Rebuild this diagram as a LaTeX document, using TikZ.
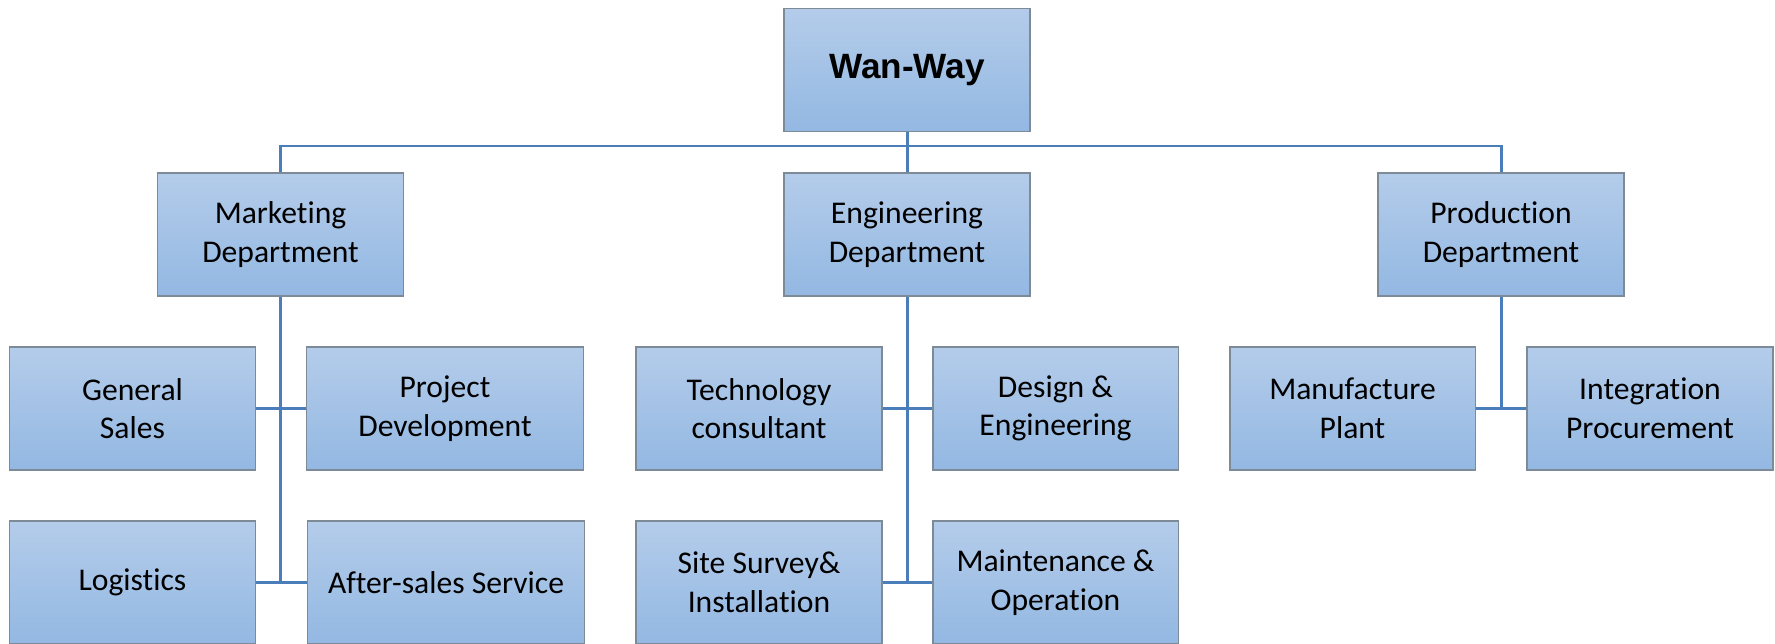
\documentclass[tikz,border=0pt]{standalone}
\usepackage{fontspec}
\setmainfont{Carlito}[Ligatures=NoCommon]
\newfontfamily\headfont{Liberation Sans}
\definecolor{boxtop}{RGB}{180,204,234}
\definecolor{boxbot}{RGB}{147,184,226}
\definecolor{boxline}{RGB}{125,138,152}
\definecolor{wire}{RGB}{74,126,187}
\begin{document}
\begin{tikzpicture}
    [x=0.02cm,y=-0.02cm,
     unit/.style={shape=rectangle,draw=boxline,line width=1.1pt,
       top color=boxtop,bottom color=boxbot,
       minimum width=4.92cm,minimum height=2.46cm,inner sep=0pt,
       align=center,font=\fontsize{18}{22}\selectfont},
     wide/.style={unit,minimum width=5.54cm},
     link/.style={draw=wire,line width=1.7pt}]
    \useasboundingbox (0,0) rectangle (1775,643);
    \node [unit,font=\headfont\bfseries\fontsize{20}{24}\selectfont] (top) at (907,70) {Wan-Way};
    \node [unit] (mkt) at (280.5,234.5) {Marketing\\Department};
    \node [unit] (eng) at (907,234.5) {Engineering\\Department};
    \node [unit] (prd) at (1501,234.5) {Production\\Department};
    \node [unit] (gs) at (132.5,408.5) {General\\Sales};
    \node [wide] (pd) at (445,408.5) {Project\\Development};
    \node [unit] (log) at (132.5,582.5) {Logistics};
    \node [wide] (as) at (446,582.5) {After-sales Service};
    \node [unit] (tc) at (759,408.5) {Technology\\consultant};
    \node [unit] (de) at (1055.5,408.5) {Design \&\\Engineering};
    \node [unit] (ss) at (759,582.5) {Site Survey\&\\Installation};
    \node [unit] (mo) at (1055.5,582.5) {Maintenance \&\\Operation};
    \node [unit] (mp) at (1352.5,408.5) {Manufacture\\Plant};
    \node [unit] (ip) at (1650,408.5) {Integration\\Procurement};
    \coordinate (bus) at (907,146);
    \draw [link] (top.south) -- (bus);
    \draw [link] (mkt.north) |- (bus) -| (prd.north);
    \draw [link] (bus) -- (eng.north);
    \draw [link] (mkt.south) -- (mkt.south |- log.east);
    \draw [link] (gs.east) -- (pd.west);
    \draw [link] (log.east) -- (as.west);
    \draw [link] (eng.south) -- (eng.south |- ss.east);
    \draw [link] (tc.east) -- (de.west);
    \draw [link] (ss.east) -- (mo.west);
    \draw [link] (prd.south) -- (prd.south |- mp.east);
    \draw [link] (mp.east) -- (ip.west);
  \end{tikzpicture}
\end{document}
